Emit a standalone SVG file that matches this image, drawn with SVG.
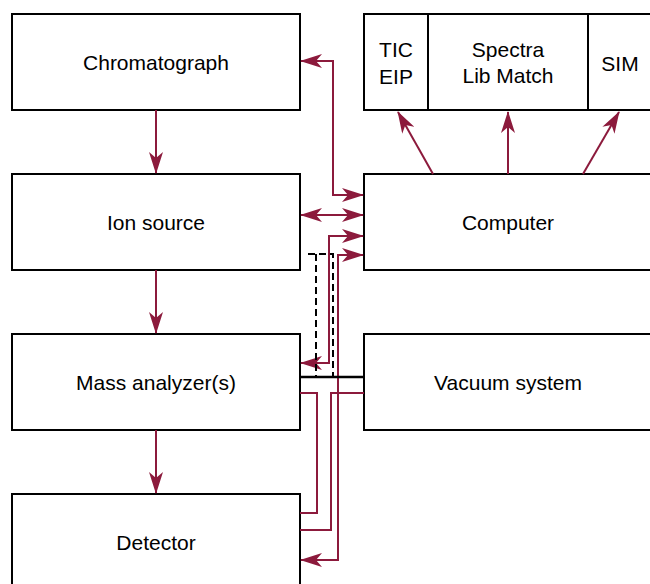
<svg xmlns="http://www.w3.org/2000/svg" width="650" height="584" viewBox="0 0 650 584">
<style>
.box{fill:#fff;stroke:#000;stroke-width:2}
.t{font-family:"Liberation Sans",Arial,sans-serif;font-size:21px;fill:#000;text-anchor:middle}
.c{fill:none;stroke:#8c1a3c;stroke-width:2}
.a{marker-end:url(#ah)}
.b{marker-start:url(#ah);marker-end:url(#ah)}
</style>
<defs>
<marker id="ah" markerUnits="userSpaceOnUse" viewBox="0 0 22 14" markerWidth="22" markerHeight="14" refX="21" refY="7" orient="auto-start-reverse">
<path d="M0,0 L22,7 L0,14 L6,7 Z" fill="#8c1a3c"/>
</marker>
</defs>
<rect width="650" height="584" fill="#fff"/>
<g id="chromatograph"><rect class="box" x="12" y="14" width="288" height="96"/><text class="t" x="156" y="70">Chromatograph</text></g>
<g id="ion-source"><rect class="box" x="12" y="174" width="288" height="96"/><text class="t" x="156" y="230">Ion source</text></g>
<g id="mass-analyzer"><rect class="box" x="12" y="334" width="288" height="96"/><text class="t" x="156" y="390">Mass analyzer(s)</text></g>
<g id="detector"><rect class="box" x="12" y="494" width="288" height="110"/><text class="t" x="156" y="550">Detector</text></g>
<g id="outputs"><rect class="box" x="364" y="14" width="300" height="96"/><line x1="428" y1="14" x2="428" y2="110" stroke="#000" stroke-width="2"/><line x1="588" y1="14" x2="588" y2="110" stroke="#000" stroke-width="2"/></g>
<g id="tic-eip"><text class="t" x="396" y="57">TIC</text><text class="t" x="396" y="84">EIP</text></g>
<g id="spectra"><text class="t" x="508" y="57">Spectra</text><text class="t" x="508" y="83">Lib Match</text></g>
<g id="sim"><text class="t" x="620" y="71">SIM</text></g>
<g id="computer"><rect class="box" x="364" y="174" width="300" height="96"/><text class="t" x="508" y="230">Computer</text></g>
<g id="vacuum"><rect class="box" x="364" y="334" width="300" height="96"/><text class="t" x="508" y="390">Vacuum system</text></g>
<g id="connectors">
<line class="c a" x1="156" y1="110" x2="156" y2="173"/>
<line class="c a" x1="156" y1="270" x2="156" y2="333"/>
<line class="c a" x1="156" y1="430" x2="156" y2="493"/>
<line class="c a" x1="433" y1="174" x2="398" y2="112"/>
<line class="c a" x1="508" y1="174" x2="508" y2="112"/>
<line class="c a" x1="583" y1="174" x2="619" y2="112"/>
<path class="c b" d="M301,61 H333 V195 H363"/>
<path class="c b" d="M301,215 H363"/>
<path class="c b" d="M301,363 H329 V236 H363"/>
<path class="c b" d="M301,560 H338 V255 H363"/>
<path class="c" d="M300,393 H317 V513 H300"/>
<path class="c" d="M364,393 H331 V530 H300"/>
<path d="M308,254 H333 V377 M316,254 V377" fill="none" stroke="#000" stroke-width="2" stroke-dasharray="7,4"/>
<line x1="300" y1="377" x2="364" y2="377" stroke="#000" stroke-width="2.5"/>
</g>
</svg>
